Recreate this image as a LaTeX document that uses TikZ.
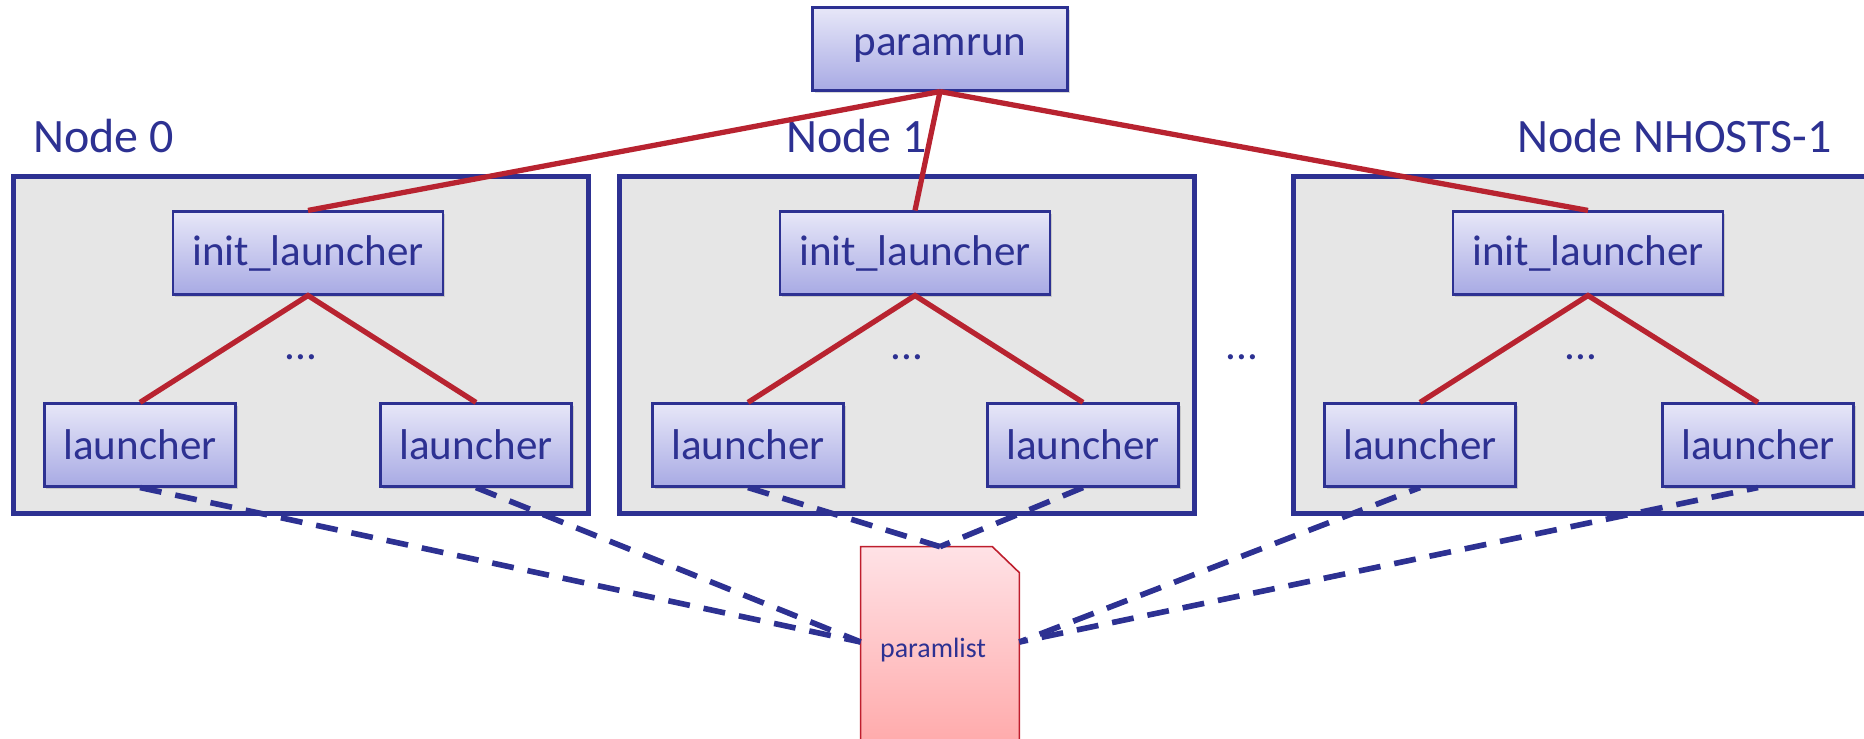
\documentclass[tikz,border=0pt]{standalone}
\usepackage{fontspec}
\setmainfont{Carlito}
\usepackage{tikz}
\usetikzlibrary{shadows}
\definecolor{inkblue}{RGB}{45,49,146}
\definecolor{boxtop}{RGB}{231,231,248}
\definecolor{boxbot}{RGB}{168,170,228}
\definecolor{hostgray}{RGB}{230,230,230}
\definecolor{linkred}{RGB}{184,35,48}
\definecolor{doctop}{RGB}{255,226,230}
\definecolor{docbot}{RGB}{255,158,158}
\definecolor{docedge}{RGB}{190,30,45}
\tikzset{
         proc/.style={draw=inkblue,line width=1.2pt,top color=boxtop,bottom color=boxbot,
           text=inkblue,font=\fontsize{24.5}{28}\selectfont,minimum height=1.66cm,inner sep=0pt,
           drop shadow={shadow xshift=0.04cm,shadow yshift=-0.06cm,opacity=0.3}},
         host/.style={draw=inkblue,line width=2.4pt,fill=hostgray,minimum width=11.5cm,
           minimum height=6.74cm,inner sep=0pt},
         hostname/.style={text=inkblue,font=\fontsize{27.3}{32}\selectfont,inner sep=0pt},
         ellip/.style={text=inkblue,font=\fontsize{24.5}{28}\selectfont,inner sep=0pt},
         spawn/.style={draw=linkred,line width=3pt},
         reads/.style={draw=inkblue,line width=3.2pt,dash pattern=on 12.5pt off 8pt},
         paramfile/.style={minimum width=3.16cm,minimum height=3.8cm,inner sep=0pt},
         filepage/.style={draw=docedge,line width=0.9pt,top color=doctop,bottom color=docbot},
         filename/.style={text=inkblue,font=\fontsize{15.9}{19}\selectfont,inner sep=0pt}
        }
\begin{document}
\begin{tikzpicture}
      \useasboundingbox (0,0) rectangle (37.28,14.78);
      \node[host] (host0) at (6.02,7.88) {}; % first host
      \node[host] (host1) at (18.14,7.88) {}; % second host
      \node[host] (host2) at (31.62,7.88) {}; % last host
      \node[hostname,anchor=base west] (name0) at (0.66,11.72) {Node 0};
      \node[hostname,anchor=base west] (name1) at (15.72,11.72) {Node 1};
      \node[hostname,anchor=base east] (name2) at (36.64,11.72) {Node NHOSTS-1};
      \node[proc,minimum width=5.1cm] (paramrun) at (18.8,13.8) {paramrun}; % master
      \node[proc,minimum width=5.4cm] (init0) at (6.16,9.72) {init\_launcher};
      \node[proc,minimum width=5.4cm] (init1) at (18.3,9.72) {init\_launcher};
      \node[proc,minimum width=5.4cm] (init2) at (31.76,9.72) {init\_launcher};
      \node[proc,minimum width=3.82cm] (la0) at (2.8,5.88) {launcher};
      \node[proc,minimum width=3.82cm] (lb0) at (9.52,5.88) {launcher};
      \node[proc,minimum width=3.82cm] (la1) at (14.96,5.88) {launcher};
      \node[proc,minimum width=3.82cm] (lb1) at (21.66,5.88) {launcher};
      \node[proc,minimum width=3.82cm] (la2) at (28.4,5.88) {launcher};
      \node[proc,minimum width=3.82cm] (lb2) at (35.16,5.88) {launcher};
      \node[ellip] (more0) at (6.02,7.64) {...};
      \node[ellip] (more1) at (18.14,7.64) {...};
      \node[ellip] (more2) at (31.62,7.64) {...};
      \node[ellip] (morehosts) at (24.84,7.64) {...}; % hosts in between
      % shared file, dog-eared page
      \node[paramfile] (paramlist) at (18.8,1.94) {};
      \path[filepage] ([yshift=-1cm]paramlist.south west) -- (paramlist.north west)
            -- ([xshift=-0.54cm]paramlist.north east) -- ([yshift=-0.52cm]paramlist.north east)
            -- ([yshift=-1cm]paramlist.south east) -- cycle;
      \node[filename] (listname) at ([xshift=-0.14cm,yshift=-0.16cm]paramlist.center) {paramlist};
      % process tree
      \draw[spawn] (paramrun.south) -- (init0.north);
      \draw[spawn] (paramrun.south) -- (init1.north);
      \draw[spawn] (paramrun.south) -- (init2.north);
      \draw[spawn] (la0.north) -- (init0.south) -- (lb0.north);
      \draw[spawn] (la1.north) -- (init1.south) -- (lb1.north);
      \draw[spawn] (la2.north) -- (init2.south) -- (lb2.north);
      % every launcher reads the list
      \draw[reads] (la0.south) -- (paramlist.west);
      \draw[reads] (lb0.south) -- (paramlist.west);
      \draw[reads] (la1.south) -- (paramlist.north);
      \draw[reads] (lb1.south) -- (paramlist.north);
      \draw[reads,dash phase=6pt] (la2.south) -- (paramlist.east);
      \draw[reads,dash phase=6pt] (lb2.south) -- (paramlist.east);
\end{tikzpicture}
\end{document}
